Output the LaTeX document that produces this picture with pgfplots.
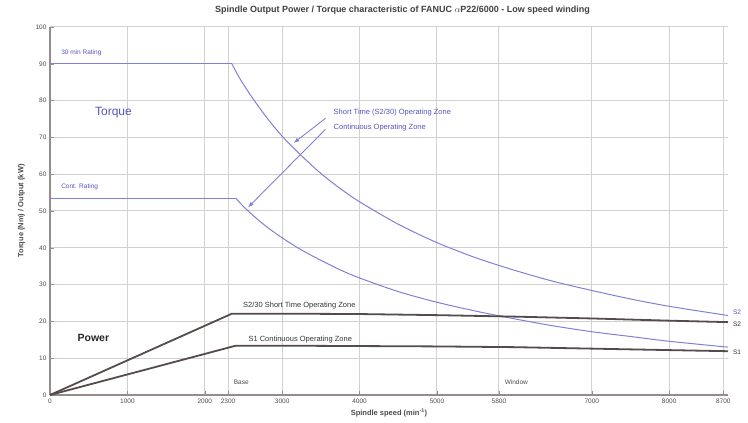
\documentclass[border=0pt]{standalone}
\usepackage{fontspec}
\setmainfont{Liberation Sans}
\usepackage{pgfplots}
\pgfplotsset{compat=1.18}
\definecolor{tq}{RGB}{128,128,215}
\definecolor{tqtext}{RGB}{85,85,190}
\definecolor{pw}{RGB}{85,75,75}
\definecolor{gridc}{RGB}{212,207,207}
\definecolor{axc}{RGB}{150,140,140}
\begin{document}
\begin{tikzpicture}
\begin{axis}[
  scale only axis, width=678pt, height=368pt,
  xmin=0, xmax=8760, ymin=0, ymax=100,
  xtick={0,1000,2000,2300,3000,4000,5000,5800,7000,8000,8700},
  xticklabels={0,1000,2000,2300,3000,4000,5000,5800,7000,8000,8700},
  ytick={0,10,...,100},
  grid=major,
  major grid style={gridc, line width=1pt},
  axis line style={axc, line width=1.2pt},
  tick style={axc},
  axis x line*=bottom, axis y line*=left,
  tick label style={font=\fontsize{6.5}{7}\selectfont, text=black!70},
  /pgf/number format/assume math mode=true,
  /pgf/number format/1000 sep={},
  xlabel={Spindle speed (min\textsuperscript{-1})},
  xlabel style={font=\fontsize{7.5}{8}\selectfont\bfseries, text=black!70, at={(axis description cs:0.5,-0.05)}, anchor=center},
  ylabel={Torque (Nm) / Output (kW)},
  ylabel style={font=\fontsize{7.5}{8}\selectfont\bfseries, text=black!70, at={(axis description cs:-0.042,0.5)}, anchor=center},
  clip=false,
]
% S2 (30 min) torque
\addplot[tq, line width=1pt] coordinates {(0,90) (2350,90)};
\addplot[tq, line width=1pt, smooth, tension=0.5] coordinates {
 (2350,90) (2450,86.1) (2600,81.2) (2800,75.4) (3000,70.3) (3250,65.0) (3500,60.2) (3750,56.1) (4000,52.5) (4500,46.4)
 (5000,41.4) (5500,37.3) (6000,33.9) (6500,30.9) (7000,28.4) (7500,26.1)
 (8000,24.1) (8760,21.6)};
% S1 continuous torque
\addplot[tq, line width=1pt] coordinates {(0,53.5) (2400,53.5)};
\addplot[tq, line width=1pt, smooth, tension=0.5] coordinates {
 (2400,53.5) (2500,51.2) (2650,48.3) (2800,45.7) (3000,42.7) (3250,39.4) (3500,36.6) (3750,34.0) (4000,31.8) (4500,28.1)
 (5000,25.2) (5500,22.8) (6000,20.7) (6500,18.8) (7000,17.2) (7500,15.9)
 (8000,14.6) (8760,13.0)};
% S2 power
\addplot[pw, line width=1.8pt] coordinates {
 (0,0) (2350,22.1) (3000,22.1) (4000,22.0) (5000,21.7) (6000,21.3)
 (7000,20.8) (8000,20.2) (8760,19.8)};
% S1 power
\addplot[pw, line width=1.8pt] coordinates {
 (0,0) (2400,13.4) (3000,13.4) (4000,13.3) (5000,13.2) (6000,13.0)
 (7000,12.6) (8000,12.2) (8760,11.9)};
% title
\node[font=\fontsize{9}{10}\selectfont\bfseries, text=black!75] at (axis description cs:0.52,1.045) {Spindle Output Power / Torque characteristic of FANUC \(\alpha\)P22/6000 - Low speed winding};
% labels
\node[anchor=west, tqtext, font=\fontsize{6.5}{7}\selectfont] at (axis cs:100,93) {30 min Rating};
\node[tqtext, font=\fontsize{12}{13}\selectfont] at (axis cs:820,76.6) {Torque};
\node[anchor=west, tqtext, font=\fontsize{6.5}{7}\selectfont] at (axis cs:100,56.5) {Cont. Rating};
\node[anchor=west, tqtext, font=\fontsize{7.5}{8}\selectfont] at (axis cs:3620,76.8) {Short Time (S2/30) Operating Zone};
\node[anchor=west, tqtext, font=\fontsize{7.5}{8}\selectfont] at (axis cs:3620,72.6) {Continuous Operating Zone};
\draw[tq, line width=0.9pt, -latex] (axis cs:3560,75.2) -- (axis cs:3150,68.5);
\draw[tq, line width=0.9pt, -latex] (axis cs:3560,72.2) -- (axis cs:2560,51);
\node[black!85, font=\fontsize{10.5}{11}\selectfont\bfseries] at (axis cs:560,15.5) {Power};
\node[anchor=west, black!80, font=\fontsize{7.5}{8}\selectfont] at (axis cs:2450,24.2) {S2/30 Short Time Operating Zone};
\node[anchor=west, black!80, font=\fontsize{7.5}{8}\selectfont] at (axis cs:2520,15.2) {S1 Continuous Operating Zone};
\node[anchor=west, black!70, font=\fontsize{6.5}{7}\selectfont] at (axis cs:2330,3.5) {Base};
\node[anchor=west, black!70, font=\fontsize{6.5}{7}\selectfont] at (axis cs:5830,3.5) {Window};
\node[anchor=west, tqtext, font=\fontsize{6.5}{7}\selectfont] at (axis cs:8780,22.5) {S2};
\node[anchor=west, black!80, font=\fontsize{6.5}{7}\selectfont] at (axis cs:8780,19.2) {S2};
\node[anchor=west, black!80, font=\fontsize{6.5}{7}\selectfont] at (axis cs:8780,11.5) {S1};
\end{axis}
\pgfresetboundingbox
\path (-50pt,-28pt) rectangle (698pt,395pt);
\end{tikzpicture}
\end{document}
